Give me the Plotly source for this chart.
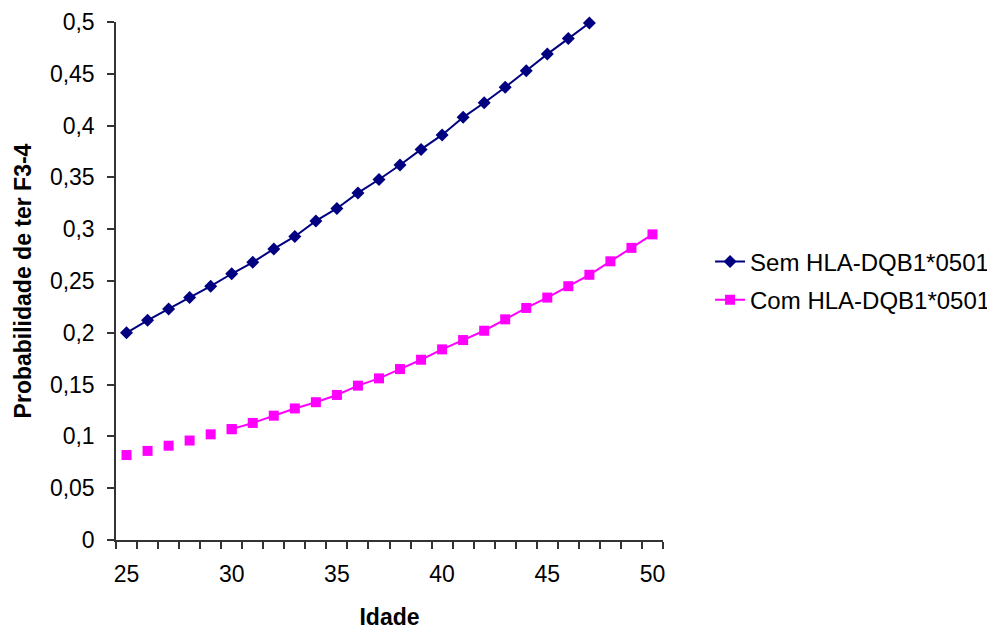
import plotly.graph_objects as go

# ---- data ----
idade = [25, 26, 27, 28, 29, 30, 31, 32, 33, 34, 35, 36, 37, 38, 39, 40, 41, 42, 43, 44, 45, 46, 47, 48, 49, 50]

sem_hla = [0.200, 0.212, 0.223, 0.234, 0.245, 0.257, 0.268, 0.281, 0.293, 0.308,
           0.320, 0.335, 0.348, 0.362, 0.377, 0.391, 0.408, 0.422, 0.437, 0.453,
           0.469, 0.484, 0.499]

com_hla = [0.082, 0.086, 0.091, 0.096, 0.102, 0.107, 0.113, 0.120, 0.127, 0.133,
           0.140, 0.149, 0.156, 0.165, 0.174, 0.184, 0.193, 0.202, 0.213, 0.224,
           0.234, 0.245, 0.256, 0.269, 0.282, 0.295]

# the pink connecting line is only drawn from age 30 on
com_line_start = 30

x_tick_vals = [25, 30, 35, 40, 45, 50]
x_tick_text = ["25", "30", "35", "40", "45", "50"]
y_tick_vals = [0, 0.05, 0.1, 0.15, 0.2, 0.25, 0.3, 0.35, 0.4, 0.45, 0.5]
y_tick_text = ["0", "0,05", "0,1", "0,15", "0,2", "0,25", "0,3", "0,35", "0,4", "0,45", "0,5"]

legend_sem = "Sem HLA-DQB1*0501"
legend_com = "Com HLA-DQB1*0501"

NAVY = "#000080"
MAGENTA = "#FF00FF"
AXIS = "#333333"
FONT = "Liberation Sans, Arial, sans-serif"

fig = go.Figure()

fig.add_trace(go.Scatter(
    x=idade[:len(sem_hla)], y=sem_hla, name=legend_sem,
    legendgroup="sem",
    mode="lines+markers",
    line=dict(color=NAVY, width=2),
    marker=dict(symbol="diamond", size=10, color=NAVY, line=dict(width=0)),
    cliponaxis=False,
))

k = idade.index(com_line_start)
fig.add_trace(go.Scatter(
    x=idade[:k + 1], y=com_hla[:k + 1], name=legend_com,
    legendgroup="com",
    mode="markers", showlegend=False,
    marker=dict(symbol="square", size=10, color=MAGENTA, line=dict(width=0)),
    cliponaxis=False,
))
fig.add_trace(go.Scatter(
    x=idade[k:], y=com_hla[k:], name=legend_com,
    legendgroup="com",
    mode="lines+markers",
    line=dict(color=MAGENTA, width=2),
    marker=dict(symbol="square", size=10, color=MAGENTA, line=dict(width=0)),
    cliponaxis=False,
))

minor_vals = [v - 0.5 for v in idade] + [idade[-1] + 0.5]

# the page body adds an 8 px offset, so margins are reduced by 8 px
fig.update_layout(
    width=995, height=632,
    margin=dict(l=108, r=340, t=14, b=100, autoexpand=False),
    paper_bgcolor="white", plot_bgcolor="white",
    font=dict(family=FONT, size=23, color="black"),
    showlegend=True,
    legend=dict(x=1.086, y=0.5, xanchor="left", yanchor="middle",
                font=dict(size=24, family=FONT), tracegroupgap=4,
                bgcolor="rgba(0,0,0,0)"),
    xaxis=dict(
        range=[24.5, 50.5], showgrid=False, zeroline=False, automargin=False,
        showline=True, linecolor=AXIS, linewidth=1.5,
        tickmode="array", tickvals=x_tick_vals, ticktext=x_tick_text,
        ticks="", ticklabelstandoff=13,
        tickfont=dict(size=23),
        minor=dict(tickmode="array", tickvals=minor_vals, ticks="outside",
                   ticklen=7, tickcolor=AXIS, tickwidth=1.5, showgrid=False),
        title=dict(text="<b>Idade</b>", font=dict(size=23), standoff=23),
    ),
    yaxis=dict(
        range=[0, 0.5], showgrid=False, zeroline=False, automargin=False,
        showline=True, linecolor=AXIS, linewidth=1.5,
        tickmode="array", tickvals=y_tick_vals, ticktext=y_tick_text,
        ticks="outside", ticklen=7, tickcolor=AXIS, tickwidth=1.5,
        ticklabelstandoff=8,
        tickfont=dict(size=23),
        title=dict(text="<b>Probabilidade de ter F3-4</b>", font=dict(size=23), standoff=12),
    ),
)

fig.write_html("out.html")
